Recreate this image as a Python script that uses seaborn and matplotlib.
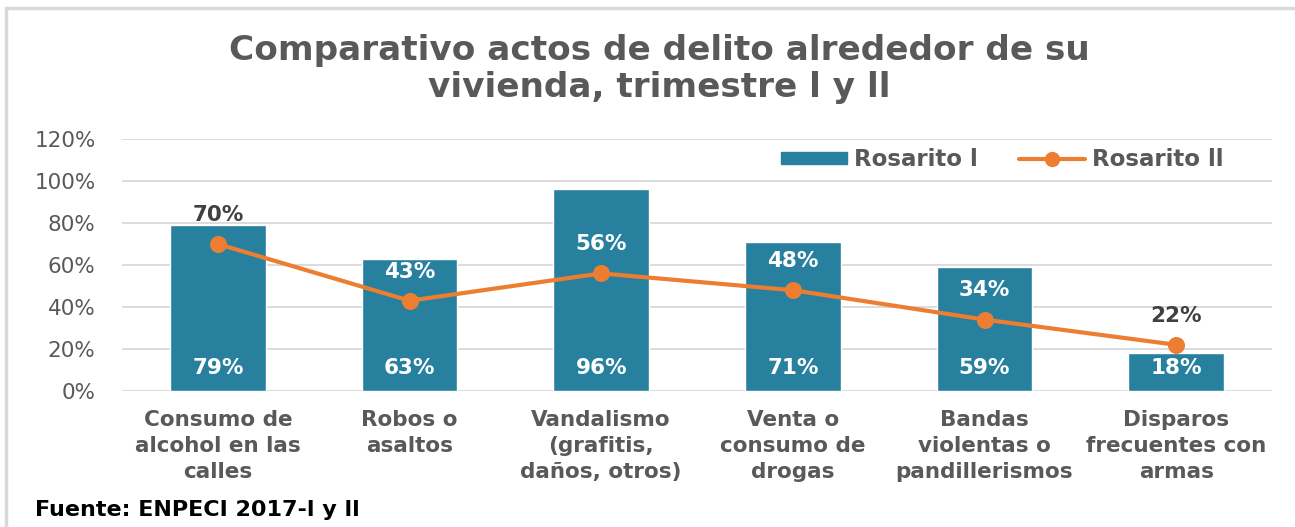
import matplotlib
matplotlib.use("Agg")
import matplotlib.pyplot as plt
import seaborn as sns
from matplotlib.patches import Patch, Rectangle
from matplotlib.lines import Line2D

categories = [
    "Consumo de\nalcohol en las\ncalles",
    "Robos o\nasaltos",
    "Vandalismo\n(grafitis,\ndaños, otros)",
    "Venta o\nconsumo de\ndrogas",
    "Bandas\nviolentas o\npandillerismos",
    "Disparos\nfrecuentes con\narmas",
]
rosarito_1 = [0.79, 0.63, 0.96, 0.71, 0.59, 0.18]
rosarito_2 = [0.70, 0.43, 0.56, 0.48, 0.34, 0.22]
series_names = ["Rosarito l", "Rosarito ll"]
y_ticks = [0.0, 0.2, 0.4, 0.6, 0.8, 1.0, 1.2]
y_tick_labels = ["0%", "20%", "40%", "60%", "80%", "100%", "120%"]
title = "Comparativo actos de delito alrededor de su\nvivienda, trimestre l y ll"
source = "Fuente: ENPECI 2017-l y ll"

BAR = "#28809F"
ORANGE = "#ED7D31"
GRAY = "#595959"
GRID = "#D9D9D9"

sns.set_theme(style="white")
plt.rcParams["font.family"] = ["DejaVu Sans"]

fig = plt.figure(figsize=(12.95, 5.27), dpi=100)
ax = fig.add_axes([122 / 1295, 1 - 391 / 527, (1272 - 122) / 1295, (391 - 139) / 527])

sns.barplot(x=categories, y=rosarito_1, color=BAR, saturation=1, width=0.5,
            ax=ax, zorder=2)
sns.pointplot(x=categories, y=rosarito_2, color=ORANGE, markers="o",
              markersize=10, linewidth=3, errorbar=None, ax=ax, zorder=3)

ax.set_ylim(0, 1.2)
ax.set_yticks(y_ticks)
ax.set_yticklabels(y_tick_labels)
ax.yaxis.grid(True, color=GRID, linewidth=1.3, zorder=0)
ax.xaxis.grid(False)
ax.set_axisbelow(True)
for s in ax.spines.values():
    s.set_visible(False)
ax.tick_params(axis="y", length=0, pad=19, labelsize=15.5, labelcolor=GRAY)
ax.tick_params(axis="x", length=0, pad=14, labelcolor=GRAY)
for lab in ax.get_xticklabels():
    lab.set_fontsize(15.5)
    lab.set_fontweight("bold")
    lab.set_linespacing(1.36)
ax.set_xlabel("")
ax.set_ylabel("")

# data labels
off2 = 0.138
for i, (v1, v2) in enumerate(zip(rosarito_1, rosarito_2)):
    ax.annotate(f"{round(v1 * 100)}%", xy=(i, 0), xytext=(0, 16.5),
                textcoords="offset points", ha="center", va="center",
                color="white", fontsize=15.5, fontweight="bold", zorder=4)
    col = "white" if v2 + off2 < v1 else "#404040"
    ax.annotate(f"{round(v2 * 100)}%", xy=(i, v2), xytext=(0, 21),
                textcoords="offset points", ha="center", va="center",
                color=col, fontsize=15.5, fontweight="bold", zorder=4)

handles = [Patch(facecolor=BAR, edgecolor=BAR),
           Line2D([0], [0], color=ORANGE, lw=3, marker="o", markersize=10)]
leg = ax.legend(handles, series_names, loc="center right",
                bbox_to_anchor=(0.976, 0.917), ncol=2, frameon=False,
                handlelength=2.9, handleheight=0.45, handletextpad=0.3,
                columnspacing=1.8, prop={"size": 16.5, "weight": "bold"})
for t in leg.get_texts():
    t.set_color(GRAY)

fig.text(659 / 1295, 1 - 69 / 527, title, ha="center", va="center",
         fontsize=24.7, fontweight="bold", color=GRAY, linespacing=1.17)
fig.text(35 / 1295, 1 - 510 / 527, source, ha="left", va="center",
         fontsize=16, fontweight="bold", color="black")

fig.patches.append(Rectangle((6 / 1295, -0.1), 1.2, 1.1 - 8 / 527,
                             transform=fig.transFigure, fill=False,
                             edgecolor=GRID, linewidth=2.5, zorder=0))

fig.savefig("out.png", dpi=100, facecolor="white")
